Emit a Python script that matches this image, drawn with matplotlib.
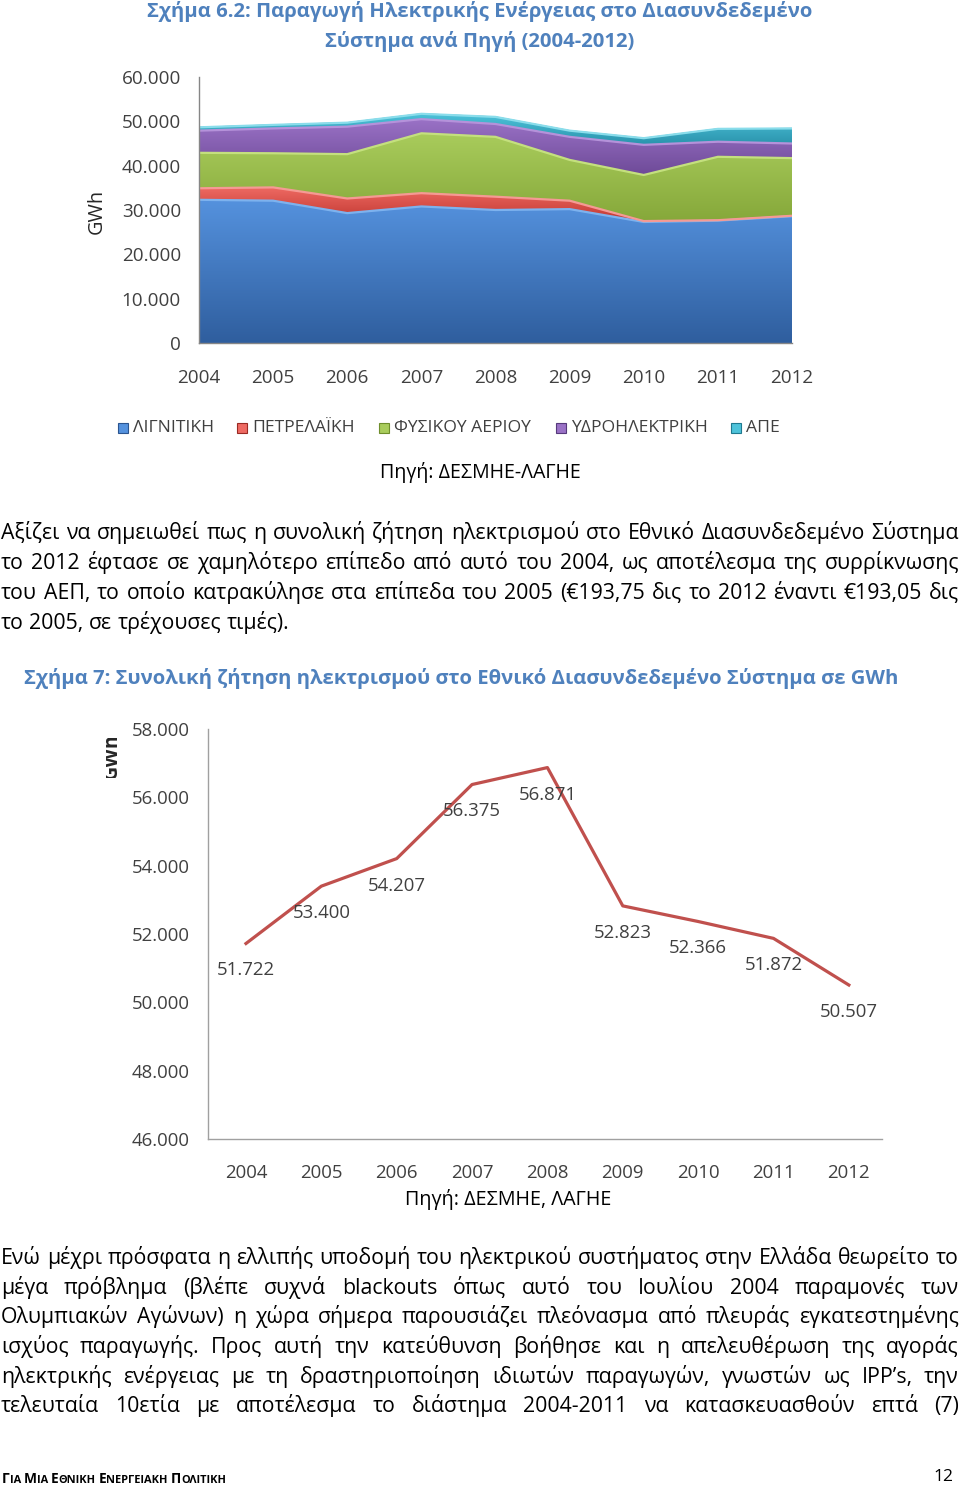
import matplotlib
matplotlib.use('Agg')
import matplotlib.pyplot as plt
from matplotlib.font_manager import FontProperties
from matplotlib.patches import Rectangle, Polygon
from matplotlib.colors import LinearSegmentedColormap
from matplotlib.transforms import Bbox
import numpy as np

FAM = ['Open Sans', 'DejaVu Sans']
plt.rcParams['font.family'] = FAM

# ---------------- data ----------------
years = [2004, 2005, 2006, 2007, 2008, 2009, 2010, 2011, 2012]
series_names = ['ΛΙΓΝΙΤΙΚΗ', 'ΠΕΤΡΕΛΑΪΚΗ', 'ΦΥΣΙΚΟΥ ΑΕΡΙΟΥ', 'ΥΔΡΟΗΛΕΚΤΡΙΚΗ', 'ΑΠΕ']
lignite = [32300, 32100, 29300, 30800, 30000, 30200, 27300, 27600, 28600]
oil = [2600, 3000, 3300, 3000, 3000, 1900, 200, 100, 100]
gas = [8000, 7700, 10000, 13500, 13500, 9200, 10400, 14300, 13000]
hydro = [5000, 5600, 6200, 3200, 2900, 5200, 6800, 3400, 3300]
res = [750, 800, 900, 1200, 1600, 1400, 1500, 2900, 3400]
yticks1 = [0, 10000, 20000, 30000, 40000, 50000, 60000]

demand_years = ['2004', '2005', '2006', '2007', '2008', '2009', '2010', '2011', '2012']
demand = [51722, 53400, 54207, 56375, 56871, 52823, 52366, 51872, 50507]
yticks2 = [46000, 48000, 50000, 52000, 54000, 56000, 58000]

title1 = ['Σχήμα 6.2: Παραγωγή Ηλεκτρικής Ενέργειας στο Διασυνδεδεμένο',
          'Σύστημα ανά Πηγή (2004-2012)']
source1 = 'Πηγή: ΔΕΣΜΗΕ-ΛΑΓΗΕ'
title2 = 'Σχήμα 7: Συνολική ζήτηση ηλεκτρισμού στο Εθνικό Διασυνδεδεμένο Σύστημα σε GWh'
source2 = 'Πηγή: ΔΕΣΜΗΕ, ΛΑΓΗΕ'

para1 = ['Αξίζει να σημειωθεί πως η συνολική ζήτηση ηλεκτρισμού στο Εθνικό Διασυνδεδεμένο Σύστημα',
         'το 2012 έφτασε σε χαμηλότερο επίπεδο από αυτό του 2004, ως αποτέλεσμα της συρρίκνωσης',
         'του ΑΕΠ, το οποίο κατρακύλησε στα επίπεδα του 2005 (€193,75 δις το 2012 έναντι €193,05 δις',
         'το 2005, σε τρέχουσες τιμές).']
para2 = ['Ενώ μέχρι πρόσφατα η ελλιπής υποδομή του ηλεκτρικού συστήματος στην Ελλάδα θεωρείτο το',
         'μέγα πρόβλημα (βλέπε συχνά blackouts όπως αυτό του Ιουλίου 2004 παραμονές των',
         'Ολυμπιακών Αγώνων) η χώρα σήμερα παρουσιάζει πλεόνασμα από πλευράς εγκατεστημένης',
         'ισχύος παραγωγής. Προς αυτή την κατεύθυνση βοήθησε και η απελευθέρωση της αγοράς',
         'ηλεκτρικής ενέργειας με τη δραστηριοποίηση ιδιωτών παραγωγών, γνωστών ως IPP’s, την',
         'τελευταία 10ετία με αποτέλεσμα το διάστημα 2004-2011 να κατασκευασθούν επτά (7)']
footer_words = ['Για', 'Μια', 'Εθνική', 'Ενεργειακή', 'Πολιτική']
page_no = '12'

# ---------------- helpers ----------------
W, H = 960, 1486
fig = plt.figure(figsize=(W / 100, H / 100), dpi=100)
renderer = fig.canvas.get_renderer()


def fx(x):
    return x / W


def fy(y):
    return 1 - y / H


def measure(s, size, weight='normal'):
    prop = FontProperties(family=FAM, size=size, weight=weight)
    w, h, d = renderer.get_text_width_height_descent(s, prop, ismath=False)
    return w


def fit(s, width, weight='normal'):
    return 20 * width / measure(s, 20, weight)


def fmt(v):
    return f'{int(v):,}'.replace(',', '.')


def strip_acc(s):
    tbl = str.maketrans('άέήίόύώΆΈΉΊΌΎΏ', 'αεηιουωΑΕΗΙΟΥΩ')
    return s.translate(tbl).upper()


BLUE_T = '#4F81BD'
TXT = '#404040'

# ---------------- titles ----------------
ts1 = fit(title1[0], 665, 'bold')
fig.text(fx(480), fy(12), title1[0], ha='center', va='center', fontsize=ts1,
         fontweight='bold', color=BLUE_T)
fig.text(fx(480), fy(41), title1[1], ha='center', va='center', fontsize=ts1,
         fontweight='bold', color=BLUE_T)

# ---------------- chart 1: stacked area ----------------
ax1 = fig.add_axes([fx(199), fy(343), (792 - 199) / W, (343 - 77) / H])
layers = [lignite, oil, gas, hydro, res]
cols = [('#5592DE', '#2F5E9E'), ('#EE6A63', '#C0362F'), ('#A9CC5C', '#86A83A'),
        ('#9A72C6', '#6E4A98'), ('#4EC3DA', '#2A93AC')]
edge = ['#2B5590', '#9A2A24', '#6F8E2C', '#563A7C', '#1F7A90']
light = ['#7DB2EE', '#F59A94', '#C4E07E', '#B592DA', '#8ADDEB']
x = np.array(years, dtype=float)
base = np.zeros(len(years))
for i, lay in enumerate(layers):
    top = base + np.array(lay, dtype=float)
    verts = np.vstack([np.column_stack([x, top]), np.column_stack([x[::-1], base[::-1]])])
    poly = Polygon(verts, closed=True, facecolor=cols[i][0], edgecolor=edge[i],
                   linewidth=0.8, zorder=2, transform=ax1.transData)
    ax1.add_patch(poly)
    cmap = LinearSegmentedColormap.from_list('g%d' % i, [cols[i][1], cols[i][0]])
    grad = np.linspace(0, 1, 256).reshape(-1, 1)
    im = ax1.imshow(grad, extent=[x[0], x[-1], base.min(), top.max()], origin='lower',
                    aspect='auto', cmap=cmap, zorder=2.1)
    im.set_clip_path(poly)
    ax1.plot(x, top, color=light[i], linewidth=1.6, zorder=3, solid_capstyle='butt')
    base = top
ax1.set_xlim(years[0], years[-1])
ax1.set_ylim(0, 60000)
ax1.set_xticks(years)
ax1.set_xticklabels([str(y) for y in years])
ax1.set_yticks(yticks1)
ax1.set_yticklabels([fmt(v) for v in yticks1])
tick1 = fit('60.000', 59)
ax1.tick_params(axis='both', length=0, labelsize=tick1, labelcolor=TXT)
ax1.tick_params(axis='y', pad=13)
ax1.tick_params(axis='x', pad=19)
for s in ['top', 'right']:
    ax1.spines[s].set_visible(False)
for s in ['left', 'bottom']:
    ax1.spines[s].set_color('#868686')
    ax1.spines[s].set_linewidth(1.0)
    ax1.spines[s].set_zorder(4)
ax1.set_facecolor('none')
fig.text(fx(97), fy(211), 'GWh', rotation=90, ha='center', va='center',
         fontsize=tick1 * 1.05, color='#262626')

# legend
leg_sq = [118, 237, 379, 556, 731]
leg_tx = [133, 252, 394, 571, 746]
legsize = fit('ΛΙΓΝΙΤΙΚΗ', 81)
for i, name in enumerate(series_names):
    fig.patches.append(Rectangle((fx(leg_sq[i]), fy(433)), 10 / W, 10 / H,
                                 transform=fig.transFigure, facecolor=cols[i][0],
                                 edgecolor=edge[i], linewidth=0.8))
    fig.text(fx(leg_tx[i]), fy(428), name, ha='left', va='center', fontsize=legsize,
             color=TXT)

ss = fit(source1, 202)
fig.text(fx(480), fy(473), source1, ha='center', va='center', fontsize=ss, color='black')

# ---------------- paragraphs (justified) ----------------
all_lines = para1[:3] + para2
psize = min(20 * 956 / measure(l, 20) for l in all_lines) * 0.995


def draw_line(line, ybase, justify=True, x0=1, x1=959):
    words = line.split(' ')
    widths = [measure(w, psize) for w in words]
    if justify and len(words) > 1:
        gap = (x1 - x0 - sum(widths)) / (len(words) - 1)
    else:
        gap = measure('a a', psize) - measure('aa', psize)
    xx = x0
    for w, wd in zip(words, widths):
        fig.text(fx(xx), fy(ybase), w, ha='left', va='baseline', fontsize=psize,
                 color='black')
        xx += wd + gap


p1y = [532, 562, 592, 622]
for i, line in enumerate(para1):
    draw_line(line, p1y[i] + 7, justify=(i < len(para1) - 1))

p2y = [1257, 1287, 1316, 1346, 1376, 1405]
for i, line in enumerate(para2):
    draw_line(line, p2y[i] + 7, justify=True)

# ---------------- chart 2: line ----------------
ts2 = fit(title2, 872, 'bold')
fig.text(fx(24), fy(679), title2, ha='left', va='center', fontsize=ts2,
         fontweight='bold', color=BLUE_T)

ax2 = fig.add_axes([fx(208), fy(1139), (882 - 208) / W, (1139 - 729) / H])
xi = np.arange(len(demand))
ax2.plot(xi, demand, color='#C0504D', linewidth=2.3, zorder=3)
tick2 = fit('58.000', 58)
for i, v in enumerate(demand):
    ax2.annotate(fmt(v), (xi[i], v), xytext=(0, -19.4), textcoords='offset points',
                 ha='center', va='center', fontsize=tick2, color=TXT)
ax2.set_xlim(-0.504, 8.44)
ax2.set_ylim(46000, 58000)
ax2.set_xticks(xi)
ax2.set_xticklabels(demand_years)
ax2.set_yticks(yticks2)
ax2.set_yticklabels([fmt(v) for v in yticks2])
ax2.tick_params(axis='both', length=0, labelsize=tick2, labelcolor=TXT)
ax2.tick_params(axis='y', pad=13)
ax2.tick_params(axis='x', pad=18)
for s in ['top', 'right']:
    ax2.spines[s].set_visible(False)
for s in ['left', 'bottom']:
    ax2.spines[s].set_color('#A0A0A0')
    ax2.spines[s].set_linewidth(1.0)
ax2.set_facecolor('none')

gt = fig.text(fx(112), fy(756), 'GWh', rotation=90, ha='center', va='center',
              fontsize=tick2 * 1.05, fontweight='bold', color='#262626')
gt.set_clip_box(Bbox.from_extents(106, H - 778, 125, H - 738))
gt.set_clip_on(True)

ss2 = fit(source2, 206)
fig.text(fx(508), fy(1200), source2, ha='center', va='center', fontsize=ss2, color='black')

# ---------------- footer (small caps) ----------------
big, small = 10.0, 8.0
pieces = []
for k, wd in enumerate(footer_words):
    up = strip_acc(wd)
    pieces.append((up[0], big))
    pieces.append((up[1:], small))
    if k < len(footer_words) - 1:
        pieces.append((' ', small))
tot = sum(measure(p, s, 'bold') for p, s in pieces)
scale = 223 / tot
xx = 2
for p, s in pieces:
    s2 = s * scale
    if p.strip():
        fig.text(fx(xx), fy(1483), p, ha='left', va='baseline', fontsize=s2,
                 fontweight='bold', color='black')
    xx += measure(p, s2, 'bold')
fig.text(fx(953), fy(1477), page_no, ha='right', va='center',
         fontsize=12.5, color='black')

fig.savefig('out.png', dpi=100)
